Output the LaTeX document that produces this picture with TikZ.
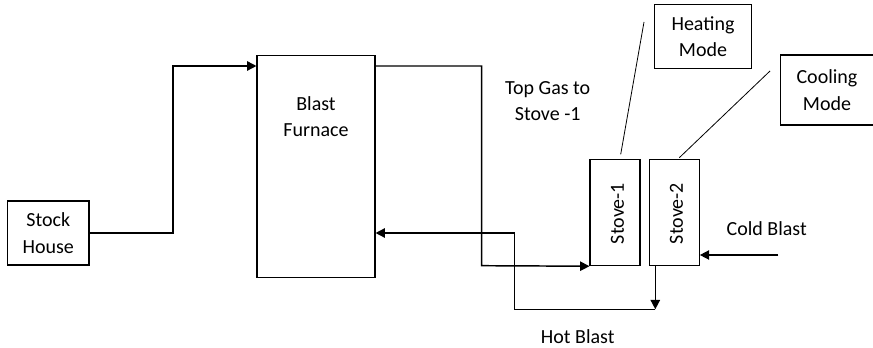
\documentclass[tikz,border=0pt]{standalone}
\usepackage{fontspec}
\setmainfont{Carlito}
\usetikzlibrary{arrows.meta}
\begin{document}
\begin{tikzpicture}[x=0.75pt,y=-0.75pt,
  box/.style={draw=black,line width=0.8pt,minimum width=#1,inner sep=0pt,align=center},
  conn/.style={line width=1.1pt,-{Triangle[length=7pt,width=7pt]}},
  plain/.style={line width=1.1pt},
  callout/.style={line width=0.6pt},
  lbl/.style={align=center,inner sep=0pt},
  every node/.style={font=\fontsize{15}{20}\selectfont}]
\useasboundingbox (0,0) rectangle (873,348);
% boxes
\node[box=61.1pt,minimum height=48pt] (stock) at (48.25,233) {Stock\\House};
\node[box=88.5pt,minimum height=167pt] (furnace) at (316,166.5) {};
\node[lbl] (fbtext) at (316,116.5) {Blast\\Furnace};
\node[box=37.5pt,minimum height=79.5pt] (stove1) at (615,212.7) {};
\node[box=37.5pt,minimum height=79.5pt] (stove2) at (674.3,212.7) {};
\node[lbl,rotate=90] (s1text) at (617.5,213.5) {Stove-1};
\node[lbl,rotate=90] (s2text) at (676.5,213.5) {Stove-2};
\node[box=72.5pt,minimum height=47.5pt] (heat) at (703,36.5) {Heating\\Mode};
\node[box=70pt,minimum height=52.5pt] (cool) at (827,90) {Cooling\\Mode};
% labels
\node[lbl] (topgas) at (547.7,101) {Top Gas to\\Stove -1};
\node[lbl] (coldlbl) at (766.7,228.3) {Cold Blast};
\node[lbl] (hotlbl) at (577.7,336.7) {Hot Blast};
% coordinates
\coordinate (tg) at (0,66);
\coordinate (hb) at (0,233);
\coordinate (hbx) at (655.3,309.3);
\coordinate (cb) at (778.3,255);
\coordinate (c1a) at (620.7,154.3);
\coordinate (c1b) at (644,22);
\coordinate (c2a) at (679.3,157.7);
\coordinate (c2b) at (770,71);
% connectors
\draw[conn] (stock.east) -- (173,233) |- (furnace.west |- tg);
\draw[conn] (furnace.east |- tg) -| (481.7,265.7) -- (stove1.south west);
\draw[conn] (stove2.south west -| hbx) -- (hbx);
\draw[conn] (hbx) -- (514.3,309.3) |- (furnace.east |- hb);
\draw[conn] (cb) -- (stove2.east |- cb);
\draw[callout] (c1a) -- (c1b);
\draw[callout] (c2a) -- (c2b);
\end{tikzpicture}
\end{document}
